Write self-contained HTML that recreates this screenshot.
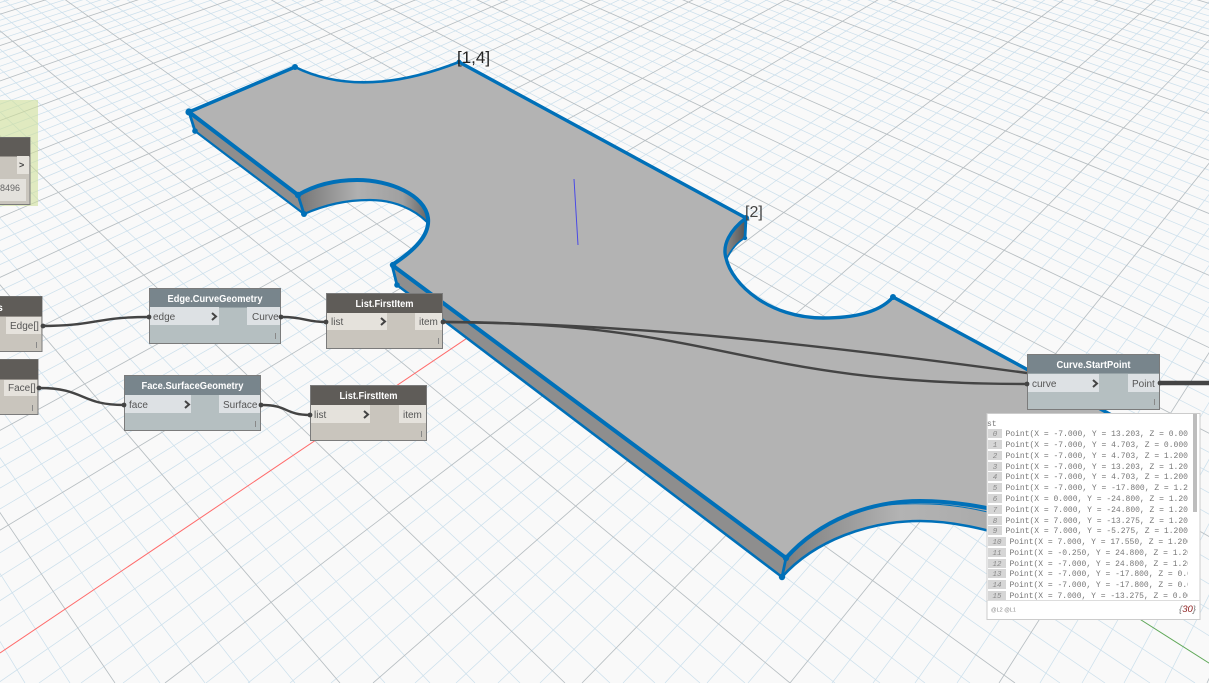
<!DOCTYPE html>
<html><head><meta charset="utf-8"><style>
html,body{margin:0;padding:0;background:#f9f9f9;overflow:hidden}
svg{display:block}
text{font-family:"Liberation Sans",sans-serif}
.t{fill:#fff;font-size:10.5px;font-weight:bold;text-anchor:middle}
.p{fill:#555;font-size:10px}
.m{font-family:"Liberation Mono",monospace;font-size:8px;fill:#777}
.i{font-family:"Liberation Mono",monospace;font-size:7.5px;fill:#888;font-style:italic;text-anchor:middle}
.c{fill:none;stroke:#444;stroke-width:2.4}
.n{stroke:#7b7b7b;stroke-width:1}
</style></head><body>
<svg width="1209" height="683" viewBox="0 0 1209 683" xmlns="http://www.w3.org/2000/svg">
<defs>
<linearGradient id="wb" gradientUnits="userSpaceOnUse" x1="786" y1="0" x2="1040" y2="0"><stop offset="0" stop-color="#7f7f7f"/><stop offset=".45" stop-color="#b3b3b3"/><stop offset="1" stop-color="#a6a6a6"/></linearGradient>
<linearGradient id="wa" gradientUnits="userSpaceOnUse" x1="300" y1="0" x2="428" y2="0"><stop offset="0" stop-color="#777"/><stop offset=".45" stop-color="#b0b0b0"/><stop offset=".8" stop-color="#a0a0a0"/><stop offset="1" stop-color="#666"/></linearGradient>
<linearGradient id="wd" gradientUnits="userSpaceOnUse" x1="727" y1="0" x2="746" y2="0"><stop offset="0" stop-color="#888"/><stop offset="1" stop-color="#555"/></linearGradient>
<clipPath id="lc"><rect x="987" y="414" width="201" height="186"/></clipPath>
</defs>
<rect width="1209" height="683" fill="#f9f9f9"/>
<!-- minor grid A -->
<path fill="none" stroke="#cde0ec" stroke-width=".75" d="M-735-576L-200 683M-735-576L-155 683M-735-576L-110 683M-735-576L-65 683M-735-576L-20 683M-735-576L25 683M-735-576L70 683M-735-576L160 683M-735-576L205 683M-735-576L250 683M-735-576L295 683M-735-576L385 683M-735-576L430 683M-735-576L475 683M-735-576L520 683M-735-576L610 683M-735-576L655 683M-735-576L700 683M-735-576L745 683M-735-576L835 683M-735-576L880 683M-735-576L925 683M-735-576L970 683M-735-576L1060 683M-735-576L1105 683M-735-576L1150 683M-735-576L1195 683M-735-576L1285 683M-735-576L1330 683M-735-576L1375 683M-735-576L1420 683M-735-576L1510 683M-735-576L1555 683M-735-576L1600 683M-735-576L1645 683M-735-576L1735 683M-735-576L1780 683M-735-576L1825 683M-735-576L1870 683M-735-576L1960 683M-735-576L2005 683M-735-576L2050 683M-735-576L2095 683M-735-576L2185 683M-735-576L2230 683M-735-576L2275 683M-735-576L2320 683M-735-576L2410 683M-735-576L2455 683M-735-576L2500 683M-735-576L2545 683M-735-576L2635 683M-735-576L2680 683M-735-576L2725 683M-735-576L2770 683M-735-576L2860 683M-735-576L2905 683M-735-576L2950 683M-735-576L2995 683M-735-576L3085 683M-735-576L3130 683M-735-576L3175 683M-735-576L3220 683M-735-576L3310 683M-735-576L3355 683M-735-576L3400 683M-735-576L3445 683M-735-576L3535 683"/>
<!-- minor grid B -->
<path fill="none" stroke="#cde0ec" stroke-width=".75" d="M1780-545L-2296 683M1780-545L-2254 683M1780-545L-2212 683M1780-545L-2171 683M1780-545L-2087 683M1780-545L-2046 683M1780-545L-2004 683M1780-545L-1962 683M1780-545L-1879 683M1780-545L-1837 683M1780-545L-1796 683M1780-545L-1754 683M1780-545L-1670 683M1780-545L-1629 683M1780-545L-1587 683M1780-545L-1545 683M1780-545L-1462 683M1780-545L-1420 683M1780-545L-1379 683M1780-545L-1337 683M1780-545L-1253 683M1780-545L-1212 683M1780-545L-1170 683M1780-545L-1128 683M1780-545L-1045 683M1780-545L-1003 683M1780-545L-962 683M1780-545L-920 683M1780-545L-836 683M1780-545L-795 683M1780-545L-753 683M1780-545L-711 683M1780-545L-628 683M1780-545L-586 683M1780-545L-545 683M1780-545L-503 683M1780-545L-419 683M1780-545L-378 683M1780-545L-336 683M1780-545L-294 683M1780-545L-211 683M1780-545L-169 683M1780-545L-128 683M1780-545L-86 683M1780-545L-2 683M1780-545L39 683M1780-545L81 683M1780-545L123 683M1780-545L206 683M1780-545L248 683M1780-545L290 683M1780-545L331 683M1780-545L415 683M1780-545L456 683M1780-545L498 683M1780-545L540 683M1780-545L623 683M1780-545L665 683M1780-545L707 683M1780-545L748 683M1780-545L832 683M1780-545L873 683M1780-545L915 683M1780-545L957 683M1780-545L1040 683M1780-545L1082 683M1780-545L1124 683M1780-545L1165 683"/>
<!-- major grid -->
<path fill="none" stroke="#b7bec2" stroke-width=".85" d="M-735-576L-110 683M-735-576L115 683M-735-576L340 683M-735-576L565 683M-735-576L790 683M-735-576L1015 683M-735-576L1465 683M-735-576L1690 683M-735-576L1915 683M-735-576L2140 683M-735-576L2365 683M-735-576L2590 683M-735-576L2815 683M-735-576L3040 683M-735-576L3265 683M-735-576L3490 683M1780-545L-2338 683M1780-545L-2129 683M1780-545L-1921 683M1780-545L-1712 683M1780-545L-1504 683M1780-545L-1295 683M1780-545L-1087 683M1780-545L-878 683M1780-545L-670 683M1780-545L-461 683M1780-545L-253 683M1780-545L165 683M1780-545L373 683M1780-545L582 683M1780-545L790 683M1780-545L999 683M1780-545L1207 683"/>
<!-- axes -->
<path d="M0 653L620 235" stroke="#ff6a6a" stroke-width="1" fill="none"/>
<path d="M1138 618L1212 665" stroke="#5fa858" stroke-width="1" fill="none"/>
<!-- group -->
<rect x="0" y="100" width="38" height="106" fill="#cfe09a" fill-opacity=".6"/>
<!-- walls -->
<path d="M189 112L298 195L304 214L195 131Z" fill="#8e8e8e"/>
<path d="M392 265L786 558L782 577L397 285Z" fill="#8e8e8e"/>
<path d="M298 195C315 185 335 180 357 180C390 180 425 195 428 218L427 222C415 210 395 200 370 200C345 200 325 205 304 214Z" fill="url(#wa)"/>
<path d="M786 558C820 520 870 501 920 501C950 501 980 505 1040 520L1040 545C980 527 950 521 920 521C870 521 815 540 782 577Z" fill="url(#wb)"/>
<path d="M746 218L745 238Q735 243 727 258C724 245 730 230 746 218Z" fill="url(#wd)"/>
<!-- top face -->
<path d="M189 112L295 67Q362 100 459 62L746 218C730 230 722 245 726 258C732 285 770 318 823 318C855 318 880 312 893 297L1130 425L1060 525C1010 512 960 501 920 501C870 501 820 520 786 558L392 265C415 250 430 235 428 218C425 195 390 180 357 180C335 180 315 185 298 195Z" fill="#b3b3b3"/>
<!-- blue edges -->
<g fill="none" stroke="#0070b8" stroke-linejoin="round" stroke-linecap="round">
<path stroke-width="3.4" d="M189 112L295 67"/>
<path stroke-width="2.6" d="M295 67Q362 100 459 62"/>
<path stroke-width="3.4" d="M459 62L746 218C730 230 722 245 726 258C732 285 770 318 823 318C855 318 880 312 893 297L1130 425"/>
<path stroke-width="4" d="M189 112L298 195C315 185 335 180 357 180C390 180 425 195 428 218C430 235 415 250 392 265L786 558C820 520 870 501 920 501C950 501 980 505 1040 520"/>
<path stroke-width="2.2" d="M195 131L304 214C325 205 345 200 370 200C395 200 415 210 427 222"/>
<path stroke-width="2.6" d="M397 285L782 577C815 540 870 521 920 521C950 521 980 527 1040 545"/>
<path stroke-width="1" d="M850 512C880 504 905 503 930 504C960 505 980 510 1040 524"/>
<path stroke-width="2.8" d="M189 112L195 131M298 195L304 214M392 265L397 285M786 558L782 577M746 218L745 238"/>
<path stroke-width="1.8" d="M745 238Q735 243 727 258"/>
</g>
<g fill="#0070b8">
<circle cx="189" cy="112" r="3.6"/><circle cx="195" cy="131" r="2.8"/><circle cx="295" cy="67" r="3"/><circle cx="459" cy="62" r="2.4"/><circle cx="746" cy="218" r="3"/><circle cx="745" cy="238" r="2.2"/><circle cx="893" cy="297" r="3"/><circle cx="298" cy="195" r="3.2"/><circle cx="304" cy="214" r="3"/><circle cx="393" cy="265" r="3.2"/><circle cx="397" cy="285" r="2.8"/><circle cx="786" cy="558" r="3.2"/><circle cx="782" cy="577" r="3.2"/>
</g>
<path d="M574 179L578 245" stroke="#4a4ae6" stroke-width="1" fill="none"/>
<text x="457" y="63" font-size="17" fill="#222">[1,4]</text>
<text x="745" y="217" font-size="16" fill="#444">[2]</text>
<!-- wires -->
<path class="c" d="M42 326C95 326 95 317 149 317"/>
<path class="c" d="M282 317C305 317 305 322 327 322"/>
<path class="c" d="M39 388C85 388 80 405 124 405"/>
<path class="c" d="M262 405C288 405 285 415 310 415"/>
<path class="c" d="M443 322C640 324 820 345 1027 373"/>
<path class="c" d="M443 322C720 322 740 384 1027 384"/>
<path d="M1160 383L1209 383" stroke="#444" stroke-width="4.5" fill="none"/>
<!-- top-left partial node -->
<rect x="-2" y="137.500" width="32" height="67" fill="#c9c5bd" class="n"/>
<rect x="-2" y="137.500" width="32" height="19" fill="#5f5c58"/>
<rect x="17" y="156" width="12" height="18" fill="#e5e2dc"/>
<text x="19" y="168" font-size="9" font-weight="bold" fill="#444">&gt;</text>
<rect x="-2" y="179" width="28" height="22" fill="#e3e1dc"/>
<text x="0" y="191" font-size="9" fill="#666">8496</text>
<!-- Edge[] partial -->
<rect x="-2" y="296.500" width="44" height="55" fill="#c9c5bd" class="n"/>
<rect x="-2" y="296.500" width="44" height="20" fill="#5f5c58"/>
<text x="-3" y="311" class="t" style="text-anchor:start">s</text>
<rect x="6" y="317" width="35" height="17" fill="#e5e2dc"/>
<text x="10" y="329" class="p">Edge[]</text>
<rect x="36" y="342" width="1" height="6" fill="#888"/>
<!-- Face[] partial -->
<rect x="-2" y="359.500" width="40" height="55" fill="#c9c5bd" class="n"/>
<rect x="-2" y="359.500" width="40" height="20" fill="#5f5c58"/>
<rect x="4" y="380" width="33" height="16" fill="#e5e2dc"/>
<text x="8" y="391" class="p">Face[]</text>
<rect x="32" y="405" width="1" height="6" fill="#888"/>
<!-- Edge.CurveGeometry -->
<rect x="149.500" y="288.500" width="131" height="55" fill="#b5bfc1" class="n"/>
<rect x="150" y="289" width="130" height="18.500" fill="#78858c"/>
<text x="215" y="302" class="t" textLength="95" lengthAdjust="spacingAndGlyphs">Edge.CurveGeometry</text>
<rect x="150" y="307" width="69" height="18" fill="#dde1e4"/>
<rect x="247" y="307" width="33" height="18" fill="#dde1e4"/>
<text x="153" y="320" class="p">edge</text>
<text x="252" y="320" class="p">Curve</text>
<path d="M212 313L216 316.500L212 320" fill="none" stroke="#444" stroke-width="2"/>
<rect x="275" y="333" width="1" height="6" fill="#888"/>
<!-- List.FirstItem 1 -->
<rect x="326.500" y="293.500" width="116" height="55" fill="#c9c5bd" class="n"/>
<rect x="327" y="294" width="115" height="19" fill="#5f5c58"/>
<text x="384.500" y="307" class="t" textLength="58" lengthAdjust="spacingAndGlyphs">List.FirstItem</text>
<rect x="327" y="313" width="60" height="17" fill="#e5e2dc"/>
<rect x="415" y="313" width="27" height="17" fill="#e5e2dc"/>
<text x="331" y="325" class="p">list</text>
<text x="419" y="325" class="p">item</text>
<path d="M381 318L385 321.500L381 325" fill="none" stroke="#444" stroke-width="2"/>
<rect x="438" y="338" width="1" height="6" fill="#888"/>
<!-- Face.SurfaceGeometry -->
<rect x="124.500" y="375.500" width="136" height="55" fill="#b5bfc1" class="n"/>
<rect x="125" y="376" width="135" height="19" fill="#78858c"/>
<text x="192.500" y="389" class="t" textLength="102" lengthAdjust="spacingAndGlyphs">Face.SurfaceGeometry</text>
<rect x="125" y="395" width="66" height="18" fill="#dde1e4"/>
<rect x="219" y="395" width="41" height="18" fill="#dde1e4"/>
<text x="129" y="408" class="p">face</text>
<text x="223" y="408" class="p">Surface</text>
<path d="M185 401L189 404.500L185 408" fill="none" stroke="#444" stroke-width="2"/>
<rect x="255" y="421" width="1" height="6" fill="#888"/>
<!-- List.FirstItem 2 -->
<rect x="310.500" y="385.500" width="116" height="55" fill="#c9c5bd" class="n"/>
<rect x="311" y="386" width="115" height="19" fill="#5f5c58"/>
<text x="368.500" y="399" class="t" textLength="58" lengthAdjust="spacingAndGlyphs">List.FirstItem</text>
<rect x="311" y="405" width="59" height="18" fill="#e5e2dc"/>
<rect x="399" y="405" width="27" height="18" fill="#e5e2dc"/>
<text x="314" y="418" class="p">list</text>
<text x="403" y="418" class="p">item</text>
<path d="M364 411L368 414.500L364 418" fill="none" stroke="#444" stroke-width="2"/>
<rect x="421" y="431" width="1" height="6" fill="#888"/>
<!-- Curve.StartPoint -->
<rect x="1027.500" y="354.500" width="132" height="55" fill="#b5bfc1" class="n"/>
<rect x="1028" y="355" width="131" height="18.500" fill="#78858c"/>
<text x="1093.500" y="368" class="t" textLength="74" lengthAdjust="spacingAndGlyphs">Curve.StartPoint</text>
<rect x="1028" y="374" width="71" height="18" fill="#dde1e4"/>
<rect x="1128" y="374" width="31" height="18" fill="#dde1e4"/>
<text x="1032" y="387" class="p">curve</text>
<text x="1132" y="387" class="p">Point</text>
<path d="M1093 380L1097 383.500L1093 387" fill="none" stroke="#444" stroke-width="2"/>
<rect x="1154" y="399" width="1" height="6" fill="#888"/>
<!-- port dots -->
<g fill="#444">
<circle cx="43" cy="326" r="2.4"/><circle cx="149" cy="317" r="2.4"/><circle cx="281" cy="317" r="2.4"/><circle cx="326" cy="322" r="2.4"/><circle cx="39" cy="388" r="2.4"/><circle cx="124" cy="405" r="2.4"/><circle cx="261" cy="405" r="2.4"/><circle cx="310" cy="415" r="2.4"/><circle cx="443" cy="322" r="2.4"/><circle cx="1027" cy="384" r="2.4"/><circle cx="1160" cy="383" r="2.4"/>
</g>
<!-- list preview -->
<rect x="987" y="413.500" width="213" height="206" fill="#fff" stroke="#ccc" stroke-width="1"/>
<rect x="1193" y="414" width="4" height="98" fill="#bdbdbd"/>
<path d="M987 600.500H1200" stroke="#ddd" stroke-width="1"/>
<g clip-path="url(#lc)">
<text x="987" y="426" class="m">st</text>
<g fill="#d6d6d6">
<rect x="988" y="429" width="14" height="9"/><rect x="988" y="440" width="14" height="9"/><rect x="988" y="451" width="14" height="9"/><rect x="988" y="462" width="14" height="9"/><rect x="988" y="472" width="14" height="9"/><rect x="988" y="483" width="14" height="9"/><rect x="988" y="494" width="14" height="9"/><rect x="988" y="505" width="14" height="9"/><rect x="988" y="516" width="14" height="9"/><rect x="988" y="526" width="14" height="9"/><rect x="988" y="537" width="18" height="9"/><rect x="988" y="548" width="18" height="9"/><rect x="988" y="559" width="18" height="9"/><rect x="988" y="569" width="18" height="9"/><rect x="988" y="580" width="18" height="9"/><rect x="988" y="591" width="18" height="9"/>
</g>
<text x="995" y="436" class="i">0</text><text x="995" y="447" class="i">1</text><text x="995" y="458" class="i">2</text><text x="995" y="469" class="i">3</text><text x="995" y="479" class="i">4</text><text x="995" y="490" class="i">5</text><text x="995" y="501" class="i">6</text><text x="995" y="512" class="i">7</text><text x="995" y="523" class="i">8</text><text x="995" y="533" class="i">9</text><text x="997" y="544" class="i">10</text><text x="997" y="555" class="i">11</text><text x="997" y="566" class="i">12</text><text x="997" y="576" class="i">13</text><text x="997" y="587" class="i">14</text><text x="997" y="598" class="i">15</text>
<text x="1005.500" y="436" class="m">Point(X = -7.000, Y = 13.203, Z = 0.000)</text>
<text x="1005.500" y="447" class="m">Point(X = -7.000, Y = 4.703, Z = 0.000)</text>
<text x="1005.500" y="458" class="m">Point(X = -7.000, Y = 4.703, Z = 1.200)</text>
<text x="1005.500" y="469" class="m">Point(X = -7.000, Y = 13.203, Z = 1.200)</text>
<text x="1005.500" y="479" class="m">Point(X = -7.000, Y = 4.703, Z = 1.200)</text>
<text x="1005.500" y="490" class="m">Point(X = -7.000, Y = -17.800, Z = 1.200)</text>
<text x="1005.500" y="501" class="m">Point(X = 0.000, Y = -24.800, Z = 1.200)</text>
<text x="1005.500" y="512" class="m">Point(X = 7.000, Y = -24.800, Z = 1.200)</text>
<text x="1005.500" y="523" class="m">Point(X = 7.000, Y = -13.275, Z = 1.200)</text>
<text x="1005.500" y="533" class="m">Point(X = 7.000, Y = -5.275, Z = 1.200)</text>
<text x="1009.500" y="544" class="m">Point(X = 7.000, Y = 17.550, Z = 1.200)</text>
<text x="1009.500" y="555" class="m">Point(X = -0.250, Y = 24.800, Z = 1.200)</text>
<text x="1009.500" y="566" class="m">Point(X = -7.000, Y = 24.800, Z = 1.200)</text>
<text x="1009.500" y="576" class="m">Point(X = -7.000, Y = -17.800, Z = 0.000)</text>
<text x="1009.500" y="587" class="m">Point(X = -7.000, Y = -17.800, Z = 0.000)</text>
<text x="1009.500" y="598" class="m">Point(X = 7.000, Y = -13.275, Z = 0.000)</text>
</g>
<text x="991" y="611.500" font-size="5.500" fill="#888">@L2 @L1</text>
<text x="1179" y="612" font-size="9.500" font-style="italic" fill="#777">{<tspan fill="#8b1a1a">30</tspan>}</text>
</svg>
</body></html>
